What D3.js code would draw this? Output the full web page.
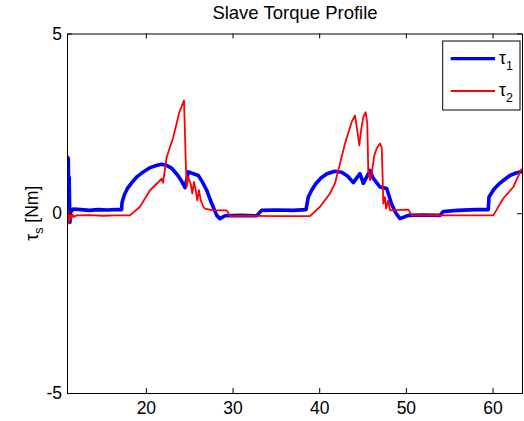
<!DOCTYPE html>
<html>
<head>
<meta charset="utf-8">
<script src="https://cdn.jsdelivr.net/npm/d3@7"></script>
<style>
  html, body { margin: 0; padding: 0; background: #fff; }
  svg { display: block; font-family: "Liberation Sans", Arial, sans-serif; }
</style>
</head>
<body>
<svg id="chart" width="524" height="421"></svg>
<script>
// Joint torques of the slave arm over time [s]
const tau1Time = [10.9, 10.95, 11.0, 11.05, 11.1, 11.15, 11.2, 11.25, 11.3, 11.4, 11.6, 12.5, 13.5, 14.5, 15.5, 16.5, 17.2,
  17.25, 17.5, 17.9, 18.4, 19.0, 19.7, 20.5, 21.2, 21.8, 22.4, 23.0, 23.7, 24.1, 24.52, 24.9, 26.05, 26.5, 27.02, 27.6, 28.17, 28.55, 29.13,
  31.0, 32.79, 33.36, 35.0, 37.0, 38.48, 38.74, 39.13, 39.6, 40.2, 40.9, 41.8, 42.6, 43.3, 43.93, 44.71, 45.09, 45.86,
  46.24, 47.01, 47.79, 48.36, 48.86, 49.32, 50.28, 52.0, 53.94, 54.32, 56.0, 58.0, 59.51, 59.59, 60.2, 60.86, 61.5, 62.01, 62.6, 63.17, 63.4];
const tau1Value = [0.0, 0.6, 1.55, 1.5, 0.6, 1.0, 0.2, -0.25, 0.1, 0.05, 0.12, 0.1, 0.08, 0.1, 0.09, 0.1, 0.1,
  0.3, 0.5, 0.7, 0.86, 1.02, 1.15, 1.27, 1.33, 1.36, 1.33, 1.25, 1.05, 0.9, 0.71, 1.15, 1.05, 0.88, 0.64, 0.27, -0.06, -0.15, -0.07,
  -0.06, -0.07, 0.08, 0.09, 0.08, 0.1, 0.45, 0.64, 0.82, 0.98, 1.1, 1.17, 1.14, 1.03, 0.85, 1.1, 0.83, 1.19,
  0.97, 0.73, 0.69, 0.25, 0.0, -0.15, -0.06, -0.05, -0.06, 0.05, 0.08, 0.1, 0.1, 0.45, 0.68, 0.84, 0.96, 1.05, 1.11, 1.15, 1.16];

const tau2Time = [10.9, 10.95, 11.0, 11.05, 11.1, 11.15, 11.2, 11.3, 11.4, 11.55, 11.7, 12.0, 13.5, 15.0, 16.5, 18.17,
  19.32, 20.48, 21.25, 21.83, 21.98, 22.4, 23.17, 23.86, 24.4, 24.6, 24.71, 24.9, 25.17, 25.36, 25.55, 25.75,
  25.93, 26.13, 26.33, 26.63, 26.82, 27.78, 29.33, 29.71, 32.0, 35.0, 38.94, 40.09, 41.25, 41.82, 42.2, 42.98,
  43.75, 44.13, 44.4, 44.63, 44.83, 45.09, 45.36, 45.55, 45.66, 45.86, 46.06, 46.36, 46.63, 47.01, 47.21,
  47.33, 47.39, 47.59, 47.71, 47.97, 48.17, 50.28, 50.67, 53.0, 56.0, 60.09, 61.24, 62.39, 63.36];
const tau2Value = [-0.35, 0.1, -0.3, 0.05, -0.25, 0.0, -0.2, -0.02, -0.15, -0.04, -0.1, -0.06, -0.05, -0.07, -0.06, -0.06,
  0.18, 0.64, 0.82, 0.96, 0.85, 1.56, 2.12, 2.81, 3.14, 1.47, 0.73, 1.01, 0.82, 0.55, 0.87, 0.64,
  0.36, 0.64, 0.36, 0.18, 0.13, 0.08, 0.08, -0.08, -0.07, -0.08, -0.08, 0.18, 0.55, 0.83, 1.19, 1.94,
  2.54, 2.72, 2.3, 1.89, 2.3, 2.68, 2.81, 2.49, 1.19, 0.92, 1.1, 1.61, 1.8, 1.94, 1.84,
  0.92, 0.27, 0.45, 0.13, 0.36, 0.08, 0.1, -0.06, -0.05, -0.06, -0.06, 0.41, 0.73, 1.24];

const xTicks = [20, 30, 40, 50, 60];
const yTicks = [-5, 0, 5];
const seriesNames = ["\u03c4", "\u03c4"];
const seriesSubs = ["1", "2"];
const seriesColors = ["#0000ff", "#ff0000"];

const svg = d3.select("#chart");
const L = 67, R = 522, T = 33.5, B = 393;

const x = d3.scaleLinear().domain([10.9, 63.4]).range([L, R]);
const y = d3.scaleLinear().domain([-5, 5]).range([B, T]);

svg.append("defs").append("clipPath").attr("id", "plotClip")
  .append("rect").attr("x", L).attr("y", T).attr("width", R - L).attr("height", B - T);

const line = d3.line().x(d => x(d[0])).y(d => y(d[1]));
const s1 = tau1Time.map((t, i) => [t, tau1Value[i]]);
const s2 = tau2Time.map((t, i) => [t, tau2Value[i]]);

const plot = svg.append("g").attr("clip-path", "url(#plotClip)");
plot.append("path").datum(s1).attr("d", line)
  .attr("fill", "none").attr("stroke", seriesColors[0]).attr("stroke-width", 3.6)
  .attr("stroke-linejoin", "round").attr("stroke-linecap", "round");
plot.append("path").datum(s2).attr("d", line)
  .attr("fill", "none").attr("stroke", seriesColors[1]).attr("stroke-width", 1.8)
  .attr("stroke-linejoin", "round");

// Axes box with inward ticks on all four sides; plain hyphen for negatives
const tickLen = 5;
const fontSize = 17.5;
const plainFmt = d => String(d);
const gB = svg.append("g").attr("transform", `translate(0,${B})`)
  .call(d3.axisBottom(x).tickValues(xTicks).tickFormat(plainFmt).tickSizeInner(-tickLen).tickSizeOuter(0).tickPadding(10));
const gT = svg.append("g").attr("transform", `translate(0,${T})`)
  .call(d3.axisTop(x).tickValues(xTicks).tickSizeInner(-tickLen).tickSizeOuter(0).tickFormat(""));
const gL = svg.append("g").attr("transform", `translate(${L},0)`)
  .call(d3.axisLeft(y).tickValues(yTicks).tickFormat(plainFmt).tickSizeInner(-tickLen).tickSizeOuter(0).tickPadding(5));
const gR = svg.append("g").attr("transform", `translate(${R},0)`)
  .call(d3.axisRight(y).tickValues(yTicks).tickSizeInner(-tickLen).tickSizeOuter(0).tickFormat(""));

[gB, gT, gL, gR].forEach(g => {
  g.selectAll(".domain").attr("stroke", "#000").attr("stroke-width", 1);
  g.selectAll(".tick line").attr("stroke", "#000").attr("stroke-width", 1);
  g.selectAll("text").attr("fill", "#000").style("font-size", fontSize + "px")
    .style("font-family", "'Liberation Sans', Arial, sans-serif");
});
gB.selectAll(".tick text").attr("dy", "0.71em").attr("y", 8.5);

// Title
svg.append("text").attr("x", (L + R) / 2 + 0.5).attr("y", 19.3).attr("text-anchor", "middle")
  .style("font-size", "18.5px").text("Slave Torque Profile");

// Y axis label
const yl = svg.append("text")
  .attr("transform", `translate(38,${(T + B) / 2}) rotate(-90)`)
  .attr("text-anchor", "middle").style("font-size", fontSize + "px");
yl.append("tspan").text("\u03c4");
yl.append("tspan").attr("dy", 5).style("font-size", "12.5px").text("s");
yl.append("tspan").attr("dy", -5).text(" [Nm]");

// Legend
const lg = svg.append("g");
lg.append("rect").attr("x", 442.7).attr("y", 41).attr("width", 77.3).attr("height", 69)
  .attr("fill", "#fff").attr("stroke", "#000").attr("stroke-width", 1);
const legRows = [58.7, 91];
legRows.forEach((ly, i) => {
  lg.append("line").attr("x1", 450.7).attr("x2", 495).attr("y1", ly).attr("y2", ly)
    .attr("stroke", seriesColors[i]).attr("stroke-width", i === 0 ? 3.2 : 1.8);
  const t = lg.append("text").attr("x", 499).attr("y", ly + 5).style("font-size", fontSize + "px");
  t.append("tspan").text(seriesNames[i]);
  t.append("tspan").attr("dy", 6).style("font-size", "12.5px").text(seriesSubs[i]);
});
</script>
</body>
</html>
